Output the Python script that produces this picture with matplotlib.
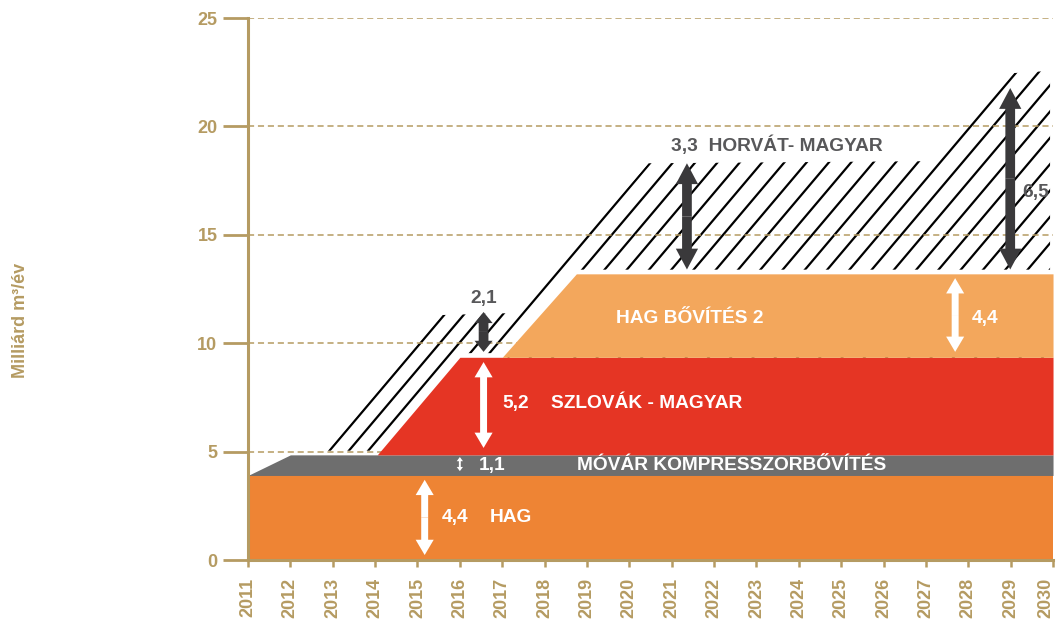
import matplotlib
matplotlib.use("Agg")
import matplotlib.pyplot as plt
from matplotlib.patches import Polygon
from matplotlib.transforms import ScaledTranslation
import numpy as np

plt.rcParams['font.family'] = ['Liberation Sans', 'DejaVu Sans']
plt.rcParams['font.weight'] = 'bold'

TAN = '#b59b62'
DARK = '#3a393b'
GREYTXT = '#58585a'

years = list(range(2011, 2031))
yticks = [0, 5, 10, 15, 20, 25]

# capacity layers (outline of each band's top edge)
hag_x = [2011, 2030]
hag_y = [3.9, 3.9]
movar_x = [2011, 2012, 2030]
movar_y = [3.9, 4.85, 4.85]
szlovak_x = [2014.05, 2016.0, 2030]
szlovak_y = [4.85, 9.35, 9.35]
hag2_x = [2017.0, 2018.75, 2030]
hag2_y = [9.35, 13.2, 13.2]

# planned (hatched) envelope
plan_x = [2012.84, 2015.63, 2017.46, 2020.50, 2027.32, 2029.12, 2029.93]
plan_y = [4.85, 11.3, 11.3, 18.3, 18.3, 22.46, 22.46]

# capacity arrows: (x, from, to)
white_arrows = [(2015.17, 0.23, 3.7), (2016.56, 5.17, 9.13), (2027.69, 9.6, 13.0)]
dark_arrows = [(2021.36, 13.4, 18.3), (2028.99, 13.4, 21.77)]
short_arrow = (2016.56, 9.6, 11.44)

fig = plt.figure(figsize=(10.58, 6.19), dpi=100)
ax = fig.add_axes([0.2344, 0.0953, 0.7609, 0.8756])
ax.set_xlim(2011, 2030)
ax.set_ylim(0, 25)

# hatching of the planned envelope; clip outline pushed out a little so the
# ramp edges keep a full-width line
cx = [x - 0.05 for x in plan_x[:-1]] + [plan_x[-1]]
cy = [y + 0.1 if i in (2, 4, 6) else y for i, y in enumerate(plan_y)]
clip = Polygon(list(zip(cx, cy)) + [(plan_x[-1], 4.85)], closed=True,
               transform=ax.transData, facecolor='none', edgecolor='none')
ax.add_patch(clip)
slope = (plan_y[1] - plan_y[0]) / (plan_x[1] - plan_x[0])
c1 = plan_x[0] - plan_y[0] / slope
c2 = plan_x[2] - plan_y[2] / slope
c3 = plan_x[4] - plan_y[4] / slope
offsets = list(np.linspace(c1, c2, 5)[:-1]) + list(np.arange(c2, 2031, (c3 - c2) / 13))
for c in offsets:
    xs = np.array([c, c + 15])
    ln, = ax.plot(xs, slope * (xs - c), color='black', lw=1.6, zorder=2,
                  solid_capstyle='butt')
    ln.set_clip_path(clip)

# white gap between hatch and coloured bands
top_x = [2011, 2012, 2014.05, 2016.0, 2017.0, 2018.75, 2030]
top_y = [3.9, 4.85, 4.85, 9.35, 9.35, 13.2, 13.2]
ax.plot(top_x, top_y, color='white', lw=6, zorder=2.5, solid_joinstyle='miter')

# dashed grid
for yv in yticks[1:]:
    ax.axhline(yv, color=TAN, lw=1.1, ls=(0, (4, 2.5)), zorder=3)

ax.fill_between(hag_x, 0, hag_y, color='#ee8434', lw=0, zorder=4)
ax.fill_between(movar_x, 3.9, movar_y, color='#6e6e6e', lw=0, zorder=4)
ax.fill_between(szlovak_x, 4.85, szlovak_y, color='#e53524', lw=0, zorder=4)
ax.fill_between(hag2_x, 9.35, hag2_y, color='#f3a75c', lw=0, zorder=4)


def double_arrow(x, y0, y1, color, hw, hl, tw):
    ym = (y0 + y1) / 2
    style = f'simple,head_length={hl},head_width={hw},tail_width={tw}'
    for yy in (y0, y1):
        ax.annotate('', xy=(x, yy), xytext=(x, ym),
                    arrowprops=dict(arrowstyle=style, color=color, lw=0,
                                    shrinkA=0, shrinkB=0, mutation_scale=1),
                    zorder=6)


for x, a, b in white_arrows:
    double_arrow(x, a, b, 'white', 13, 11, 5)
for x, a, b in dark_arrows:
    double_arrow(x, a, b, DARK, 16, 15, 7)
double_arrow(*short_arrow, DARK, 13, 8, 7)
double_arrow(2016.0, 4.1, 4.75, 'white', 4.5, 3, 1.4)

lab = dict(fontsize=13.8, fontweight='bold', va='center', zorder=7)
ax.text(2015.57, 1.94, '4,4', color='white', **lab)
ax.text(2016.70, 1.94, 'HAG', color='white', **lab)
ax.text(2016.44, 4.38, '1,1', color='white', **lab)
ax.text(2018.77, 4.38, 'MÓVÁR KOMPRESSZORBŐVÍTÉS', color='white', **lab)
ax.text(2017.0, 7.2, '5,2', color='white', **lab)
ax.text(2018.16, 7.2, 'SZLOVÁK - MAGYAR', color='white', **lab)
ax.text(2019.69, 11.16, 'HAG BŐVÍTÉS 2', color='white', **lab)
ax.text(2028.07, 11.16, '4,4', color='white', **lab)
ax.text(2016.56, 12.08, '2,1', color=GREYTXT, ha='center', **lab)
ax.text(2020.98, 19.15, '3,3  HORVÁT- MAGYAR', color=GREYTXT, **lab)
ax.text(2029.27, 16.97, '6,5', color=GREYTXT, **lab)

# axes styling
for side in ('top', 'right'):
    ax.spines[side].set_visible(False)
for side in ('left', 'bottom'):
    ax.spines[side].set_color(TAN)
    ax.spines[side].set_linewidth(2.2)
    ax.spines[side].set_zorder(10)
ax.set_xticks(years)
ax.set_yticks(yticks)
ax.tick_params(axis='x', colors=TAN, length=5, width=1.8, pad=8,
               labelrotation=90, labelsize=13)
ax.tick_params(axis='y', colors=TAN, length=18, width=2, pad=4, labelsize=13)
for t in ax.get_xticklabels() + ax.get_yticklabels():
    t.set_fontweight('bold')
last = ax.get_xticklabels()[-1]
last.set_transform(last.get_transform() + ScaledTranslation(-5 / 72, 0, fig.dpi_scale_trans))

fig.text(0.019, 0.483, 'Milliárd m³/év', rotation=90, color=TAN,
         fontsize=13, fontweight='bold', ha='center', va='center')

fig.savefig('out.png', dpi=100)
